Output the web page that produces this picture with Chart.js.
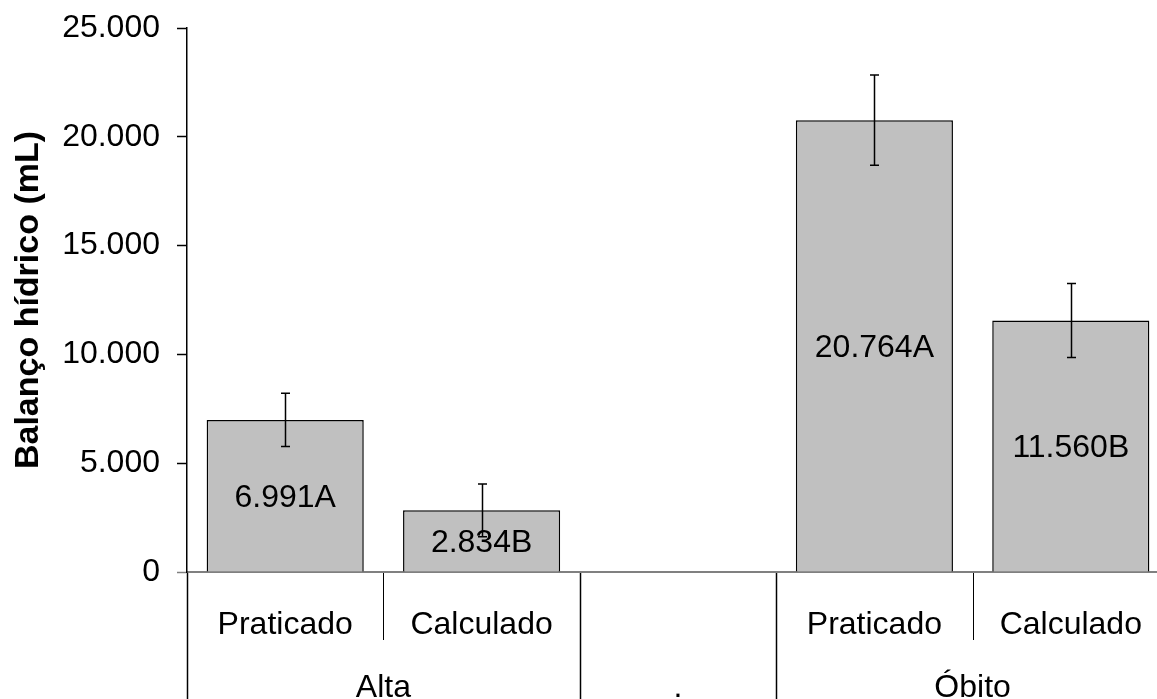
<!DOCTYPE html>
<html><head><meta charset="utf-8">
<script src="https://cdn.jsdelivr.net/npm/chart.js@4"></script>
<style>
html,body{margin:0;padding:0;overflow:hidden;background:#fff}
#wrap{width:1170px;height:699px;position:relative}
</style>
</head><body><div id="wrap"><canvas id="c"></canvas></div>
<script>
const categories = ["Praticado", "Calculado", "", "Praticado", "Calculado"];
const groupLabels = ["Alta", ".", "Óbito"];
const groupSizes = [2, 1, 2];
const values = [6991, 2834, null, 20764, 11560];
const errors = [1225, 1210, null, 2075, 1700];
const barLabels = ["6.991A", "2.834B", "", "20.764A", "11.560B"];
const yTicks = [0, 5000, 10000, 15000, 20000, 25000];
const yTickLabels = ["0", "5.000", "10.000", "15.000", "20.000", "25.000"];
const yTitle = "Balanço hídrico (mL)";

const FONT = '"Liberation Sans", Arial, sans-serif';

const overlay = {
  id: 'overlay',
  afterDatasetsDraw(chart) {
    const {ctx, scales: {y}} = chart;
    const meta = chart.getDatasetMeta(0);
    ctx.save();
    ctx.strokeStyle = '#000';
    ctx.lineWidth = 1.5;
    values.forEach((v, i) => {
      if (v == null) return;
      const bar = meta.data[i];
      const cx = Math.round(bar.x) + 0.5;
      const yt = y.getPixelForValue(v + errors[i]);
      const yb = y.getPixelForValue(v - errors[i]);
      ctx.beginPath();
      ctx.moveTo(cx, yt); ctx.lineTo(cx, yb);
      ctx.moveTo(cx - 4.5, yt); ctx.lineTo(cx + 4.5, yt);
      ctx.moveTo(cx - 4.5, yb); ctx.lineTo(cx + 4.5, yb);
      ctx.stroke();
    });
    ctx.fillStyle = '#000';
    ctx.font = '32px ' + FONT;
    ctx.textAlign = 'center';
    ctx.textBaseline = 'alphabetic';
    values.forEach((v, i) => {
      if (v == null) return;
      const bar = meta.data[i];
      ctx.fillText(barLabels[i], bar.x, (bar.y + bar.base) / 2 + 11.5);
    });
    ctx.restore();
  },
  afterDraw(chart) {
    const {ctx, scales: {x}, chartArea, height} = chart;
    const step = x.getPixelForValue(1) - x.getPixelForValue(0);
    const start = x.getPixelForValue(0) - step / 2;
    const bottom = chartArea.bottom;
    ctx.save();
    const groupBounds = [0];
    groupSizes.forEach(s => groupBounds.push(groupBounds[groupBounds.length - 1] + s));
    for (let k = 0; k <= categories.length; k++) {
      const bx = Math.round(start + k * step) + 0.5;
      const isGroup = groupBounds.includes(k);
      ctx.beginPath();
      ctx.strokeStyle = '#000';
      ctx.lineWidth = isGroup ? 1.5 : 1;
      ctx.moveTo(bx, bottom + 1);
      ctx.lineTo(bx, isGroup ? height : bottom + 68);
      ctx.stroke();
    }
    ctx.fillStyle = '#000';
    ctx.font = '32px ' + FONT;
    ctx.textAlign = 'center';
    ctx.textBaseline = 'alphabetic';
    categories.forEach((c, i) => {
      if (!c) return;
      ctx.fillText(c, x.getPixelForValue(i), bottom + 62);
    });
    groupLabels.forEach((g, gi) => {
      const cx = start + (groupBounds[gi] + groupBounds[gi + 1]) / 2 * step;
      ctx.fillText(g, cx, bottom + 125);
    });
    ctx.restore();
  }
};

new Chart(document.getElementById('c'), {
  type: 'bar',
  data: {
    labels: categories,
    datasets: [{
      data: values,
      backgroundColor: '#C0C0C0',
      borderColor: '#000',
      borderWidth: 1.5,
      categoryPercentage: 1.0,
      barPercentage: 0.8
    }]
  },
  options: {
    responsive: true,
    maintainAspectRatio: false,
    devicePixelRatio: 1,
    animation: false,
    layout: { padding: { top: 28, right: 1, left: 0, bottom: 0 } },
    plugins: { legend: { display: false }, tooltip: { enabled: false } },
    scales: {
      x: {
        type: 'category',
        grid: { display: false, drawTicks: false },
        ticks: { display: false },
        border: { color: '#808080', width: 2 },
        afterFit(scale) { scale.height = 127; scale.paddingLeft = 0; scale.paddingRight = 0; }
      },
      y: {
        min: 0,
        max: 25000,
        afterBuildTicks(scale) { scale.ticks = yTicks.map(v => ({ value: v })); },
        ticks: {
          padding: 17,
          color: '#000',
          font: { family: FONT, size: 32 },
          callback: (v) => { const i = yTicks.indexOf(v); return i >= 0 ? yTickLabels[i] : ''; }
        },
        grid: {
          drawOnChartArea: false,
          drawTicks: true,
          tickLength: 10,
          tickWidth: 1.5,
          tickColor: (ctx) => (ctx.tick && ctx.tick.value === 0) ? '#808080' : '#000'
        },
        border: { color: '#000', width: 1.5 },
        title: {
          display: true,
          text: yTitle,
          color: '#000',
          font: { family: FONT, size: 34, weight: 'bold' },
          padding: { top: 8, bottom: 0 }
        },
        afterFit(scale) { scale.width = 187; scale.paddingTop = 0; scale.paddingBottom = 0; }
      }
    }
  },
  plugins: [overlay]
});
</script>
</body></html>
